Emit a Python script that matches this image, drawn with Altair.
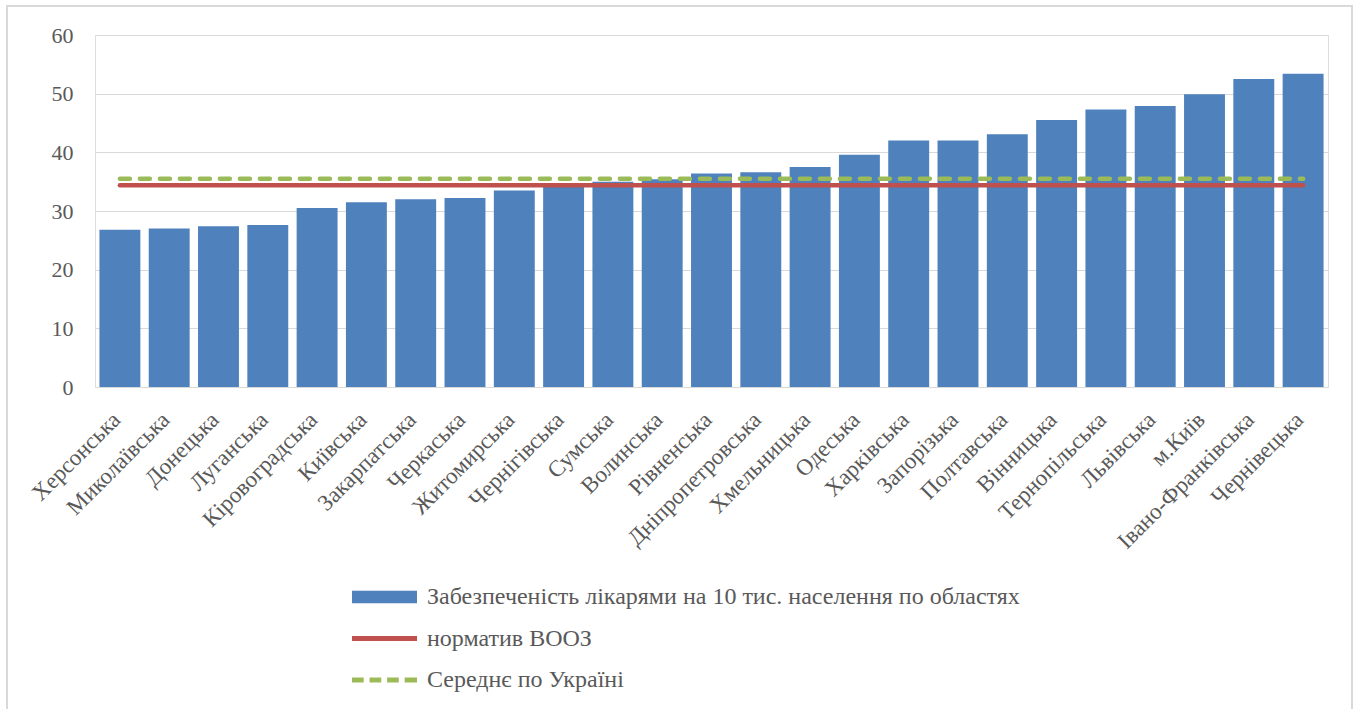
import altair as alt
import pandas as pd

regions = ["Херсонська", "Миколаївська", "Донецька", "Луганська", "Кіровоградська",
           "Київська", "Закарпатська", "Черкаська", "Житомирська", "Чернігівська",
           "Сумська", "Волинська", "Рівненська", "Дніпропетровська", "Хмельницька",
           "Одеська", "Харківська", "Запорізька", "Полтавська", "Вінницька",
           "Тернопільська", "Львівська", "м.Київ", "Івано-Франківська", "Чернівецька"]
doctors = [26.8, 27.0, 27.4, 27.6, 30.5, 31.5, 32.0, 32.2, 33.5, 34.6,
           35.0, 35.4, 36.4, 36.6, 37.5, 39.6, 42.0, 42.0, 43.1, 45.5,
           47.3, 47.9, 49.9, 52.5, 53.4]
who_norm = [34.4] * len(regions)
ukraine_avg = [35.5] * len(regions)

series_names = ["Забезпеченість лікарями на 10 тис. населення по областях",
                "норматив ВООЗ",
                "Середнє по Україні"]
series_colors = ["#4f81bd", "#c0504d", "#9bbb59"]
y_ticks = [0, 10, 20, 30, 40, 50, 60]

FONT = "Liberation Serif"
TXT = "#595959"

# legend symbol shapes (unit square -1..1)
sym_rect = "M-1,-0.19H1V0.19H-1Z"
sym_line = "M-1,-0.075H1V0.075H-1Z"
sym_dash = ("M-1,-0.075H-0.64V0.075H-1Z M-0.46,-0.075H-0.1V0.075H-0.46Z "
            "M0.08,-0.075H0.44V0.075H0.08Z M0.62,-0.075H1V0.075H0.62Z")

df = pd.DataFrame({"region": regions, "doctors": doctors,
                   "who": who_norm, "avg": ukraine_avg})
leg_df = pd.DataFrame({"series": series_names, "region": [regions[0]] * 3,
                       "v": [None] * 3})
frame_df = pd.DataFrame({"k": [0]})

x_enc = alt.X("region:N", sort=regions, title=None,
              scale=alt.Scale(paddingInner=0.17, paddingOuter=0.09),
              axis=alt.Axis(labelAngle=-45, labelFont=FONT, labelFontSize=23,
                            labelColor=TXT, ticks=False, domainColor="#d9d9d9",
                            labelPadding=21, labelOffset=-11, labelLimit=0))
y_scale = alt.Scale(domain=[0, 60])
y_axis = alt.Axis(values=y_ticks, labelFont=FONT, labelFontSize=22, labelColor=TXT,
                  ticks=False, domain=False, gridColor="#d9d9d9", labelPadding=22)

base = alt.Chart(df)
bars = base.mark_bar(color="#4f81bd").encode(
    x=x_enc,
    y=alt.Y("doctors:Q", scale=y_scale, axis=y_axis, title=None),
)
red = base.mark_line(color="#c0504d", strokeWidth=4.5, strokeCap="round").encode(
    x=alt.X("region:N", sort=regions), y=alt.Y("who:Q"))
green = base.mark_line(color="#9bbb59", strokeWidth=4.5, strokeCap="round",
                       strokeDash=[10, 10]).encode(
    x=alt.X("region:N", sort=regions), y=alt.Y("avg:Q"))

leg = alt.Legend(title=None, orient="none", legendX=257, legendY=551,
                 direction="vertical", labelFont=FONT, labelFontSize=24,
                 labelColor=TXT, symbolSize=4225, symbolStrokeWidth=0,
                 symbolOpacity=1, labelOffset=10, labelLimit=0,
                 clipHeight=22, rowPadding=17.5)
legend_layer = alt.Chart(leg_df).mark_point(filled=True).encode(
    x=alt.X("region:N", sort=regions),
    y=alt.Y("v:Q"),
    color=alt.Color("series:N", scale=alt.Scale(domain=series_names, range=series_colors),
                    legend=leg),
    shape=alt.Shape("series:N", scale=alt.Scale(domain=series_names,
                                                range=[sym_rect, sym_line, sym_dash]),
                    legend=leg),
)

# outer chart-area border (decoration)
frame = alt.Chart(frame_df).mark_rect(fill=None, stroke="#d9d9d9", strokeWidth=2).encode(
    x=alt.value(-88), x2=alt.value(1257), y=alt.value(-29), y2=alt.value(720))

chart = alt.layer(frame, bars, red, green, legend_layer).properties(
    width=1233, height=352,
    autosize=alt.AutoSizeParams(type="none"),
    padding={"left": 95, "top": 35, "right": 30, "bottom": 322},
).configure_view(strokeWidth=0).configure(background="white")

chart.save("out.html", embed_options={"renderer": "svg", "actions": False})
